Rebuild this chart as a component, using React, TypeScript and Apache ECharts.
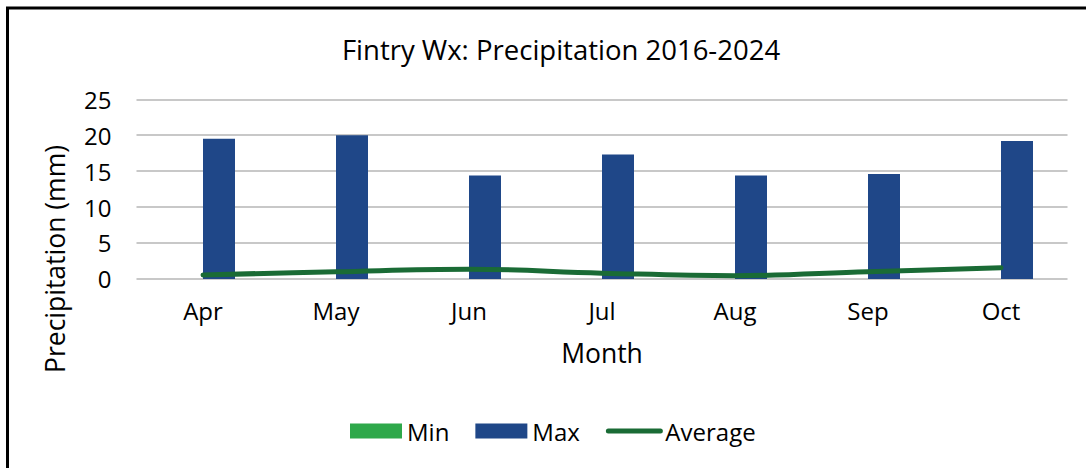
import React, { useEffect, useRef } from "react";
import * as echarts from "echarts";

const months = ["Apr", "May", "Jun", "Jul", "Aug", "Sep", "Oct"];
const minValues = [0, 0, 0, 0, 0, 0, 0];
const maxValues = [19.5, 20.0, 14.4, 17.3, 14.4, 14.6, 19.2];
const avgValues = [0.55, 1.0, 1.35, 0.8, 0.45, 1.0, 1.55];
const yTicks = { min: 0, max: 25, interval: 5 };

const FONT = "'Open Sans', 'Noto Sans', sans-serif";

export default function App() {
  const ref = useRef<HTMLDivElement>(null);
  useEffect(() => {
    if (!ref.current) return;
    const chart = echarts.init(ref.current, null, { renderer: "svg" });
    chart.setOption({
      animation: false,
      backgroundColor: "#ffffff",
      textStyle: { fontFamily: FONT },
      graphic: [
        {
          type: "rect",
          shape: { x: 7.5, y: 8, width: 1300, height: 700 },
          style: { fill: "none", stroke: "#000000", lineWidth: 3 },
          silent: true,
        },
        {
          type: "text",
          x: 561,
          y: 49,
          style: {
            text: "Fintry Wx: Precipitation 2016-2024",
            fontSize: 27.5,
            fontFamily: FONT,
            fill: "#000000",
            textAlign: "center",
            textVerticalAlign: "middle",
          },
        },
        {
          type: "text",
          x: 55,
          y: 259,
          rotation: Math.PI / 2,
          style: {
            text: "Precipitation (mm)",
            fontSize: 26.5,
            fontFamily: FONT,
            fill: "#000000",
            textAlign: "center",
            textVerticalAlign: "middle",
          },
        },
      ],
      grid: { left: 136.5, right: 18.5, top: 99.3, bottom: 468 - 278.9, containLabel: false },
      legend: {
        left: 345,
        top: 414,
        itemWidth: 52,
        itemHeight: 15,
        itemGap: 26,
        textStyle: { fontSize: 24, color: "#000000", fontFamily: FONT },
        data: [
          { name: "Min", icon: "rect" },
          { name: "Max", icon: "rect" },
          { name: "Average", itemStyle: { opacity: 0 }, lineStyle: { cap: "round", width: 5 } },
        ],
      },
      xAxis: {
        type: "category",
        data: months,
        name: "Month",
        nameLocation: "middle",
        nameGap: 61,
        nameTextStyle: { fontSize: 26.5, color: "#000000", fontFamily: FONT },
        axisLine: { show: false },
        axisTick: { show: false },
        axisLabel: { fontSize: 24, color: "#000000", margin: 20, fontFamily: FONT },
      },
      yAxis: {
        type: "value",
        min: yTicks.min,
        max: yTicks.max,
        interval: yTicks.interval,
        axisLine: { show: false },
        axisTick: { show: false },
        axisLabel: { fontSize: 24, color: "#000000", margin: 25, fontFamily: FONT },
        splitLine: { lineStyle: { color: "#c8c8c8", width: 2 } },
      },
      series: [
        {
          name: "Min",
          type: "bar",
          data: minValues,
          barWidth: 32,
          barGap: "0%",
          itemStyle: { color: "#2ea84a" },
        },
        {
          name: "Max",
          type: "bar",
          data: maxValues,
          barWidth: 32,
          barGap: "0%",
          itemStyle: { color: "#1f4788" },
        },
        {
          name: "Average",
          type: "line",
          data: avgValues,
          smooth: 0.4,
          symbol: "none",
          lineStyle: { color: "#1a6b35", width: 5, cap: "round" },
          itemStyle: { color: "#1a6b35" },
          z: 5,
        },
      ],
    });
    return () => chart.dispose();
  }, []);
  return (
    <div
      ref={ref}
      style={{ position: "fixed", left: 0, top: 0, width: 1086, height: 468 }}
    />
  );
}
